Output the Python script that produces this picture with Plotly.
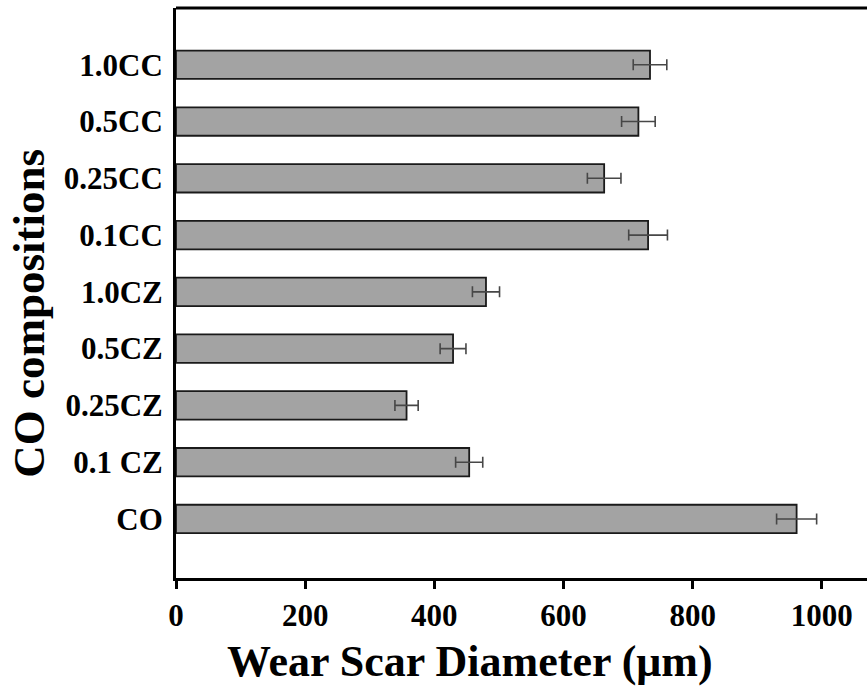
import plotly.graph_objects as go

categories = ["CO", "0.1 CZ", "0.25CZ", "0.5CZ", "1.0CZ", "0.1CC", "0.25CC", "0.5CC", "1.0CC"]
wear_scar = [961, 454, 357, 429, 480, 731, 663, 716, 734]
wear_err = [31, 21, 18, 20, 21, 30, 26, 26, 26]
x_ticks = [0, 200, 400, 600, 800, 1000]

FONT = "Liberation Serif"

fig = go.Figure()
fig.add_trace(go.Bar(
    y=categories,
    x=wear_scar,
    orientation="h",
    width=0.5,
    marker=dict(color="#a3a3a3", line=dict(color="#1a1a1a", width=1.8)),
    error_x=dict(type="data", array=wear_err, visible=True,
                 color="#474747", thickness=1.6, width=5.5),
    showlegend=False,
))

fig.update_layout(
    width=867, height=694,
    margin=dict(l=176, r=0, t=8, b=116),
    plot_bgcolor="white", paper_bgcolor="white",
    font=dict(family=FONT, color="black"),
    xaxis=dict(
        range=[0, 1070],
        tickvals=x_ticks,
        ticks="outside", ticklen=8, tickwidth=2.5, tickcolor="black",
        showline=True, linewidth=3, linecolor="black",
        showgrid=False, zeroline=False,
        tickfont=dict(family=FONT, size=31, color="black", weight="bold"),
    ),
    yaxis=dict(
        type="category",
        categoryorder="array", categoryarray=categories,
        range=[-1.04, 9.0],
        ticks="",
        showline=True, linewidth=3, linecolor="black",
        showgrid=False, zeroline=False,
        ticklabelstandoff=4,
        tickfont=dict(family=FONT, size=31, color="black", weight="bold"),
    ),
    shapes=[dict(type="line", xref="paper", yref="paper", x0=0, x1=1, y0=1, y1=1,
                 line=dict(color="black", width=3))],
    annotations=[
        dict(text="Wear Scar Diameter (μm)", xref="paper", yref="paper",
             x=0.4255, y=-0.147, xanchor="center", yanchor="middle", showarrow=False,
             font=dict(family=FONT, size=44, color="black", weight="bold")),
        dict(text="CO compositions", xref="paper", yref="paper",
             x=-0.213, y=0.465, xanchor="center", yanchor="middle", showarrow=False,
             textangle=-90,
             font=dict(family=FONT, size=45, color="black", weight="bold")),
    ],
)

fig.write_html("out.html")
